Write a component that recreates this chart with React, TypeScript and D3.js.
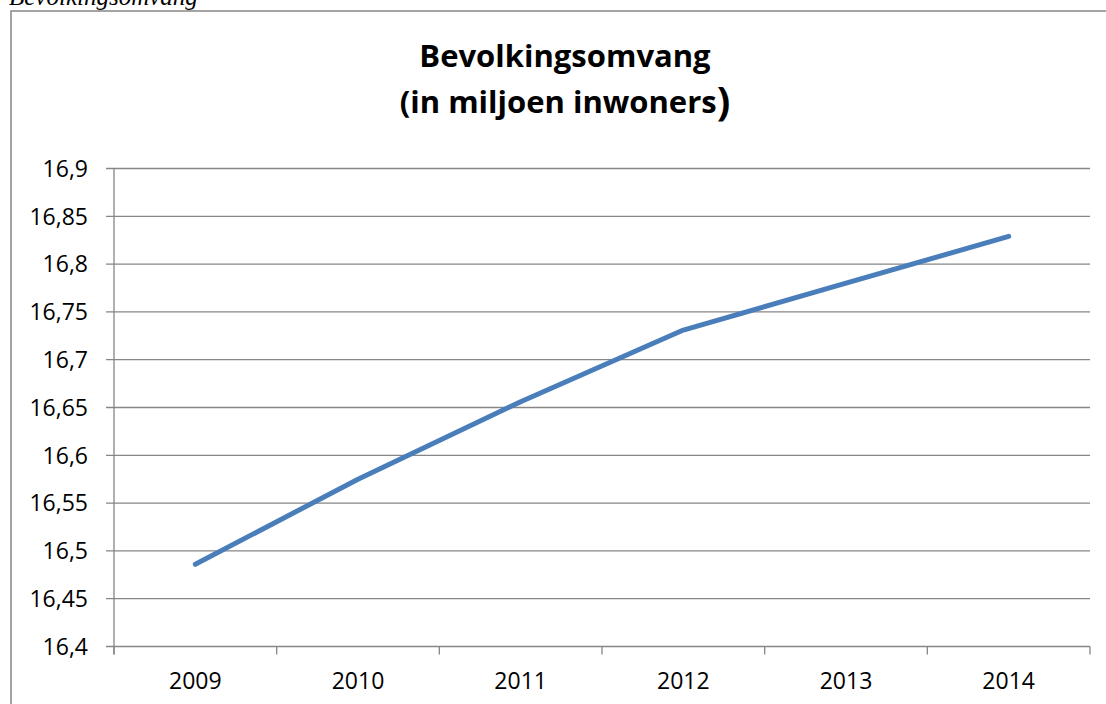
import React from "react";
import * as d3 from "d3";

const years = ["2009", "2010", "2011", "2012", "2013", "2014"];
const population = [16.486, 16.575, 16.656, 16.731, 16.780, 16.829];
const yTicks = [16.4, 16.45, 16.5, 16.55, 16.6, 16.65, 16.7, 16.75, 16.8, 16.85, 16.9];
const titleLine1 = "Bevolkingsomvang";
const titleLine2 = "(in miljoen inwoners";
const caption = "Bevolkingsomvang";

const W = 1106;
const H = 704;
const left = 114;
const right = 1090;
const top = 168.5;
const bottom = 646.5;
const grid = "#868686";
const font = "'Open Sans', sans-serif";

export default function App() {
  const x = d3.scaleBand<string>().domain(years).range([left, right]);
  const y = d3.scaleLinear().domain([16.4, 16.9]).range([bottom, top]);
  const line = d3
    .line<number>()
    .x((_, i) => (x(years[i]) as number) + x.bandwidth() / 2)
    .y((d) => y(d));
  const fmt = (v: number) => String(+v.toFixed(2)).replace(".", ",");
  const xEdges = years.map((yr) => x(yr) as number).concat([right]);

  return (
    <svg
      width={W}
      height={H}
      style={{ position: "fixed", left: 0, top: 0, background: "#fff" }}
    >
      <rect x={0} y={0} width={W} height={H} fill="#fff" />
      <text
        x={9}
        y={5}
        fontFamily="'Liberation Serif', 'Times New Roman', serif"
        fontStyle="italic"
        fontSize={25}
        fill="#000"
      >
        {caption}
      </text>
      <rect
        x={11}
        y={11}
        width={W + 20}
        height={H + 20}
        fill="none"
        stroke={grid}
        strokeWidth={1.5}
      />
      <text
        x={565}
        y={67}
        textAnchor="middle"
        fontFamily={font}
        fontWeight="bold"
        fontSize={31}
        fill="#000"
      >
        {titleLine1}
      </text>
      <text
        x={565}
        y={113}
        textAnchor="middle"
        fontFamily={font}
        fontWeight="bold"
        fontSize={31}
        fill="#000"
      >
        {titleLine2}
        <tspan fontSize={40} dy={2}>)</tspan>
      </text>
      {yTicks.map((t) => (
        <g key={t}>
          <line
            x1={106}
            x2={right}
            y1={y(t)}
            y2={y(t)}
            stroke={grid}
            strokeWidth={1.3}
          />
          <text
            x={88}
            y={y(t)}
            dy="0.36em"
            textAnchor="end"
            fontFamily={font}
            fontSize={23}
            fill="#000"
          >
            {fmt(t)}
          </text>
        </g>
      ))}
      <line x1={left} x2={left} y1={top} y2={bottom + 8} stroke={grid} strokeWidth={1.3} />
      {xEdges.map((e, i) => (
        <line key={i} x1={e} x2={e} y1={bottom} y2={bottom + 8} stroke={grid} strokeWidth={1.3} />
      ))}
      {years.map((yr) => (
        <text
          key={yr}
          x={(x(yr) as number) + x.bandwidth() / 2}
          y={689}
          textAnchor="middle"
          fontFamily={font}
          fontSize={23}
          fill="#000"
        >
          {yr}
        </text>
      ))}
      <path
        d={line(population) || ""}
        fill="none"
        stroke="#4a7ebb"
        strokeWidth={5}
        strokeLinecap="round"
        strokeLinejoin="round"
      />
    </svg>
  );
}
